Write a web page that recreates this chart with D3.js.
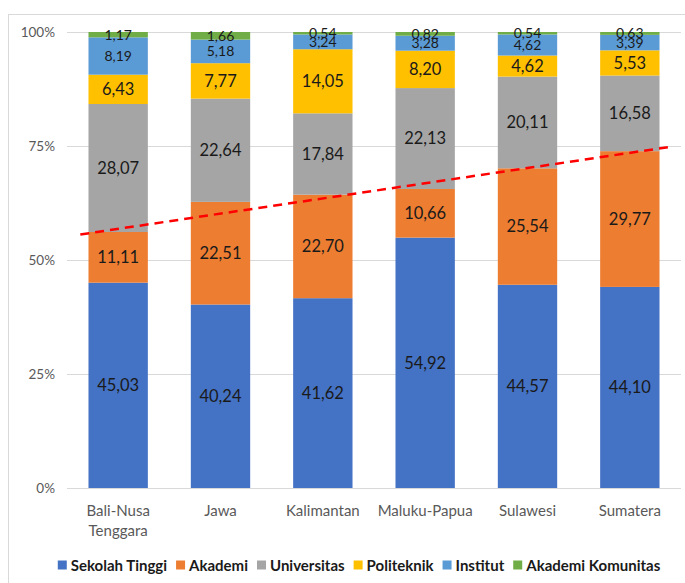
<!DOCTYPE html>
<html>
<head>
<meta charset="utf-8">
<script src="https://cdn.jsdelivr.net/npm/d3@7"></script>
<style>
  html, body { margin: 0; padding: 0; background: #fff; }
  svg { display: block; font-family: Lato, "Open Sans", sans-serif; }
</style>
</head>
<body>
<svg id="chart" width="685" height="583"></svg>
<script>
// Regions (categories)
const regions = ["Bali-Nusa Tenggara", "Jawa", "Kalimantan", "Maluku-Papua", "Sulawesi", "Sumatera"];
const regionLines = [["Bali-Nusa", "Tenggara"], ["Jawa"], ["Kalimantan"], ["Maluku-Papua"], ["Sulawesi"], ["Sumatera"]];

// Share of institutions by type (%)
const sekolahTinggi     = [45.03, 40.24, 41.62, 54.92, 44.57, 44.10];
const akademi           = [11.11, 22.51, 22.70, 10.66, 25.54, 29.77];
const universitas       = [28.07, 22.64, 17.84, 22.13, 20.11, 16.58];
const politeknik        = [6.43, 7.77, 14.05, 8.20, 4.62, 5.53];
const institut          = [8.19, 5.18, 3.24, 3.28, 4.62, 3.39];
const akademiKomunitas  = [1.17, 1.66, 0.54, 0.82, 0.54, 0.63];

const seriesNames = ["Sekolah Tinggi", "Akademi", "Universitas", "Politeknik", "Institut", "Akademi Komunitas"];
const seriesValues = [sekolahTinggi, akademi, universitas, politeknik, institut, akademiKomunitas];
const seriesColors = ["#4472C4", "#ED7D31", "#A5A5A5", "#FFC000", "#5B9BD5", "#70AD47"];

const yTicks = [0, 0.25, 0.5, 0.75, 1];
const yTickLabels = ["0%", "25%", "50%", "75%", "100%"];

// Dashed trend line: position in category units (1 = first region) and level (%)
const trendX = [0.63, 6.39];
const trendY = [55.6, 74.8];

const svg = d3.select("#chart");
const W = 685, H = 583;
const plot = { left: 67, right: 681, top: 32, bottom: 488 };

// Chart frame
svg.append("rect")
  .attr("x", 8.5).attr("y", 14.5)
  .attr("width", W + 10).attr("height", H + 10)
  .attr("fill", "none").attr("stroke", "#d9d9d9").attr("stroke-width", 1);

const x = d3.scaleBand().domain(regions).range([plot.left, plot.right]).paddingInner(0.42).paddingOuter(0.21);
const y = d3.scaleLinear().domain([0, 1]).range([plot.bottom, plot.top]);

// Gridlines
svg.append("g").selectAll("line").data(yTicks).join("line")
  .attr("x1", plot.left).attr("x2", plot.right)
  .attr("y1", d => Math.round(y(d)) + 0.5).attr("y2", d => Math.round(y(d)) + 0.5)
  .attr("stroke", "#d9d9d9").attr("stroke-width", 1);

// Y axis labels
const yAxis = d3.axisLeft(y).tickValues(yTicks).tickFormat((d, i) => yTickLabels[i]).tickSize(0).tickPadding(12);
const yg = svg.append("g").attr("transform", `translate(${plot.left},0)`).call(yAxis);
yg.select(".domain").remove();
yg.selectAll("text").attr("fill", "#595959").style("font-size", "13.5px").style("font-family", "Lato, sans-serif");

// Stacked data
const rows = regions.map((r, i) => {
  const o = { region: r };
  seriesNames.forEach((s, j) => { o[s] = seriesValues[j][i]; });
  return o;
});
const stack = d3.stack().keys(seriesNames).offset(d3.stackOffsetExpand);
const stacked = stack(rows);

const layers = svg.append("g").selectAll("g").data(stacked).join("g")
  .attr("fill", (d, i) => seriesColors[i]);
layers.selectAll("rect").data(d => d).join("rect")
  .attr("x", d => x(d.data.region))
  .attr("width", x.bandwidth())
  .attr("y", d => y(d[1]))
  .attr("height", d => y(d[0]) - y(d[1]));

// Value labels
const fmt = v => v.toFixed(2).replace(".", ",");
const labels = svg.append("g");
stacked.forEach((layer, j) => {
  layer.forEach(d => {
    const v = d.data[layer.key];
    labels.append("text")
      .attr("x", x(d.data.region) + x.bandwidth() / 2)
      .attr("y", (y(d[0]) + y(d[1])) / 2)
      .attr("dy", "0.35em")
      .attr("text-anchor", "middle")
      .attr("fill", "#1a1a1a")
      .style("font-size", j >= 4 ? "14px" : "16.5px")
      .text(fmt(v));
  });
});

// Trend line
const xc = d3.scaleLinear().domain([1, regions.length])
  .range([x(regions[0]) + x.bandwidth() / 2, x(regions[regions.length - 1]) + x.bandwidth() / 2]);
svg.append("line")
  .attr("x1", xc(trendX[0])).attr("y1", y(trendY[0] / 100))
  .attr("x2", xc(trendX[1])).attr("y2", y(trendY[1] / 100))
  .attr("stroke", "#FF0000").attr("stroke-width", 2.5)
  .attr("stroke-dasharray", "9,6");

// Category labels
const cat = svg.append("g");
regionLines.forEach((lines, i) => {
  const t = cat.append("text")
    .attr("x", x(regions[i]) + x.bandwidth() / 2)
    .attr("y", 516)
    .attr("text-anchor", "middle")
    .attr("fill", "#595959")
    .style("font-size", "15px");
  lines.forEach((l, k) => {
    t.append("tspan").attr("x", x(regions[i]) + x.bandwidth() / 2).attr("dy", k === 0 ? 0 : 20).text(l);
  });
});

// Legend
const legend = svg.append("g");
const sw = 9, gapText = 4, gapItem = 9;
const items = seriesNames.map((n, i) => {
  const g = legend.append("g");
  g.append("rect").attr("width", sw).attr("height", sw).attr("y", -sw / 2 - 1).attr("fill", seriesColors[i]);
  const t = g.append("text").attr("x", sw + gapText).attr("dy", "0.35em")
    .attr("fill", "#1a1a1a").style("font-size", "15px").style("font-weight", "bold").text(n);
  return { g, w: sw + gapText + t.node().getComputedTextLength() };
});
const total = d3.sum(items, d => d.w) + gapItem * (items.length - 1);
let lx = 359 - total / 2;
items.forEach(it => {
  it.g.attr("transform", `translate(${lx},566)`);
  lx += it.w + gapItem;
});
</script>
</body>
</html>
